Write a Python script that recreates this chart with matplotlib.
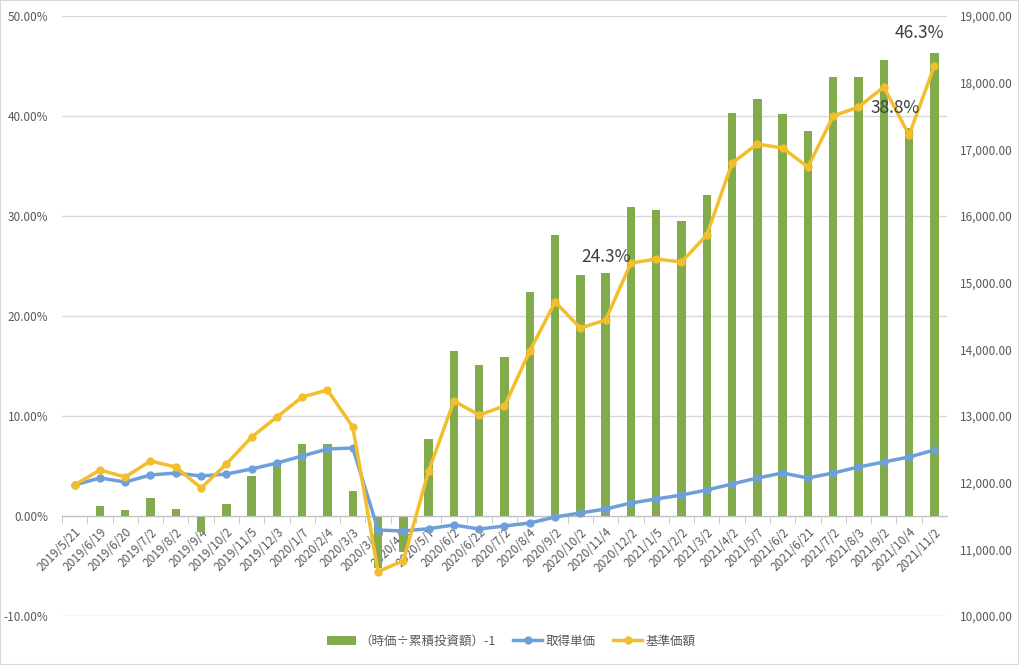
import matplotlib
matplotlib.use('Agg')
import numpy as np
import matplotlib.pyplot as plt
from matplotlib.ticker import MultipleLocator, FuncFormatter
from matplotlib.lines import Line2D
from matplotlib.patches import Patch

# --- Daten ---
dates = [
    '2019/5/21', '2019/6/19', '2019/6/20', '2019/7/2', '2019/8/2', '2019/9/4',
    '2019/10/2', '2019/11/5', '2019/12/3', '2020/1/7', '2020/2/4', '2020/3/3',
    '2020/3/13', '2020/4/2', '2020/5/7', '2020/6/2', '2020/6/22', '2020/7/2',
    '2020/8/4', '2020/9/2', '2020/10/2', '2020/11/4', '2020/12/2', '2021/1/5',
    '2021/2/2', '2021/3/2', '2021/4/2', '2021/5/7', '2021/6/2', '2021/6/21',
    '2021/7/2', '2021/8/3', '2021/9/2', '2021/10/4', '2021/11/2',
]

# (時価÷累積投資額)-1 in %
ratio = [
    -0.1, 1.0, 0.6, 1.8, 0.7, -1.6, 1.2, 4.0, 5.3, 7.2, 7.2, 2.5,
    -5.2, -3.6, 7.7, 16.5, 15.1, 15.9, 22.4, 28.1, 24.1, 24.3, 30.9, 30.6,
    29.5, 32.1, 40.3, 41.7, 40.2, 38.5, 43.9, 43.9, 45.6, 38.8, 46.3,
]

# 取得単価
unit_cost = [
    11965, 12070, 12010, 12115, 12145, 12100, 12130, 12205, 12295, 12400, 12505, 12520,
    11290, 11275, 11310, 11365, 11305, 11350, 11395, 11485, 11545, 11605, 11695, 11755,
    11815, 11890, 11980, 12070, 12145, 12070, 12145, 12235, 12310, 12385, 12490,
]

# 基準価額
nav = [
    11965, 12190, 12085, 12325, 12235, 11920, 12280, 12685, 12985, 13285, 13390, 12835,
    10665, 10830, 12175, 13225, 13015, 13150, 13975, 14710, 14320, 14440, 15295, 15355,
    15310, 15715, 16795, 17080, 17020, 16735, 17500, 17635, 17935, 17215, 18250,
]

# Datenbeschriftungen: (Index, Text, Versatz in pt)
bar_labels = [
    (21, '24.3%', (0, 5)),
    (33, '38.8%', (-10, 8)),
    (34, '46.3%', (-11, 8)),
]

GREEN = '#82AC4C'
BLUE = '#6E9FD8'
YELLOW = '#F2BE2C'
GRID = '#d9d9d9'
TXT = '#595959'

plt.rcParams['font.family'] = ['Noto Sans CJK JP', 'DejaVu Sans']

fig = plt.figure(figsize=(10.19, 6.65), dpi=100)
ax = fig.add_axes([62 / 1019, 1 - 616 / 665, (947 - 62) / 1019, 600 / 665])
x = np.arange(len(dates))

ax.bar(x, ratio, width=0.33, color=GREEN, zorder=2)
ax.set_xlim(-0.5, len(dates) - 0.5)
ax.set_ylim(-10, 50)
ax.yaxis.set_major_locator(MultipleLocator(10))
ax.yaxis.set_major_formatter(FuncFormatter(lambda v, p: f'{v:.2f}%'))
ax.yaxis.grid(True, color=GRID, lw=1)
ax.set_axisbelow(True)

for s in ['top', 'left', 'right']:
    ax.spines[s].set_visible(False)
ax.spines['bottom'].set_position(('data', 0))
ax.spines['bottom'].set_color('#bfbfbf')

ax.set_xticks(x)
ax.set_xticklabels(dates, rotation=45, ha='right', va='top', rotation_mode='anchor',
                   fontsize=8.5, color=TXT)
ax.set_xticks(x - 0.5, minor=True)
ax.tick_params(axis='x', which='major', length=0, pad=7)
ax.tick_params(axis='x', which='minor', length=5, color='#bfbfbf')
ax.tick_params(axis='y', length=0, labelsize=8.5, labelcolor=TXT, pad=10)

# --- Rechte Achse ---
ax2 = ax.twinx()
ax2.set_ylim(10000, 19000)
ax2.yaxis.set_major_locator(MultipleLocator(1000))
ax2.yaxis.set_major_formatter(FuncFormatter(lambda v, p: f'{v:,.2f}'))
ax2.tick_params(axis='y', length=0, labelsize=8.5, labelcolor=TXT, pad=9)
for s in ax2.spines.values():
    s.set_visible(False)

ax2.plot(x, unit_cost, color=BLUE, lw=2.5, marker='o', ms=5, zorder=3)
ax2.plot(x, nav, color=YELLOW, lw=2.5, marker='o', ms=5, zorder=4)

for i, txt, off in bar_labels:
    ax2.annotate(txt, xy=(x[i], ratio[i]), xycoords=ax.transData,
                 xytext=off, textcoords='offset points',
                 ha='center', va='bottom', fontsize=12.5, color='#404040', zorder=10)

handles = [
    Patch(facecolor=GREEN, edgecolor='none'),
    Line2D([], [], color=BLUE, lw=2.5, marker='o', ms=5),
    Line2D([], [], color=YELLOW, lw=2.5, marker='o', ms=5),
]
fig.legend(handles, ['（時価÷累積投資額）-1', '取得単価', '基準価額'],
           loc='center', bbox_to_anchor=(0.502, 1 - 641 / 665), ncol=3, frameon=False,
           fontsize=9, labelcolor=TXT, handlelength=2.3, columnspacing=1.4,
           handletextpad=0.3)

fig.add_artist(plt.Rectangle((0, 0), 1, 1, transform=fig.transFigure, fill=False,
                             ec=GRID, lw=1.5))

fig.savefig('out.png', dpi=100)
